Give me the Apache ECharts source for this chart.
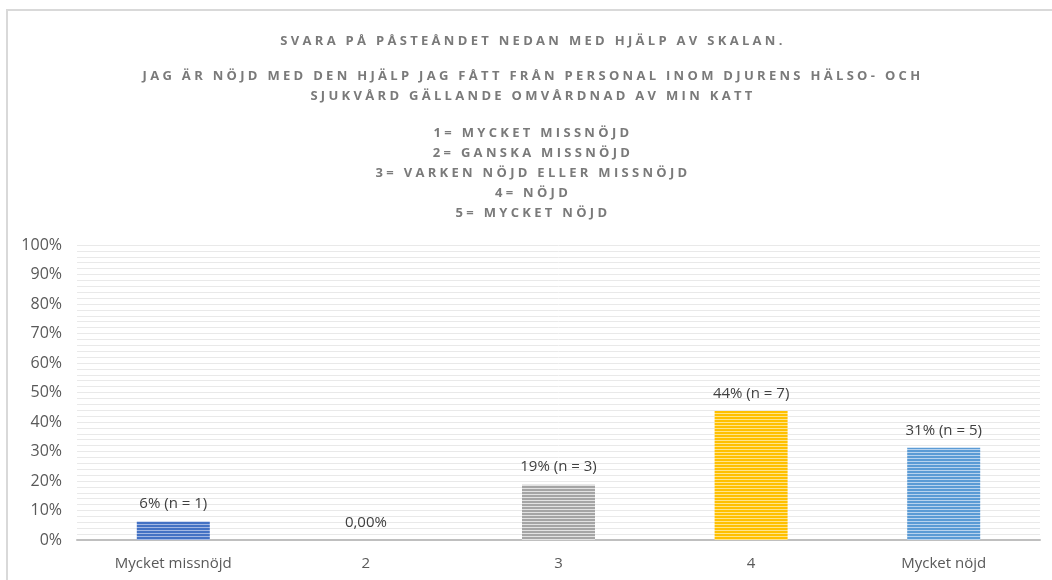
<!DOCTYPE html>
<html>
<head>
<meta charset="utf-8">
<script src="https://cdn.jsdelivr.net/npm/echarts@6/dist/echarts.min.js"></script>
<style>
    html, body { margin: 0; padding: 0; background: #fff; overflow: hidden; }
    #frame {
        position: absolute; left: 6px; top: 9px; width: 1100px; height: 620px;
        border: 2px solid #d9d9d9; box-sizing: border-box;
    }
    #titles {
        position: absolute; left: 0; top: 0; width: 1066px; text-align: center;
        font-family: "Open Sans", sans-serif; font-weight: bold; font-size: 13px;
        color: #7a7a7a; letter-spacing: 3.3px; line-height: 20px; z-index: 2;
    }
    #titles p { margin: 0; position: absolute; left: 0; width: 100%; }
    #chart { position: absolute; left: 0; top: 0; width: 1052px; height: 580px; }
</style>
</head>
<body>
    <div id="frame"></div>
    <div id="chart"></div>
    <div id="titles">
        <p style="top:30px">SVARA PÅ PÅSTEÅNDET NEDAN MED HJÄLP AV SKALAN.</p>
        <p style="top:65px">JAG ÄR NÖJD MED DEN HJÄLP JAG FÅTT FRÅN PERSONAL INOM DJURENS HÄLSO- OCH<br>SJUKVÅRD GÄLLANDE OMVÅRDNAD AV MIN KATT</p>
        <p style="top:122px">1= MYCKET MISSNÖJD<br>2= GANSKA MISSNÖJD<br>3= VARKEN NÖJD ELLER MISSNÖJD<br>4= NÖJD<br>5= MYCKET NÖJD</p>
    </div>
    <script>
        // data
        var categories = ['Mycket missnöjd', '2', '3', '4', 'Mycket nöjd'];
        var values = [6.25, 0, 18.75, 43.75, 31.25];
        var labels = ['6% (n = 1)', '0,00%', '19% (n = 3)', '44% (n = 7)', '31% (n = 5)'];

        // striped fills, [main, light]
        var colors = [
            ['#4472c4', '#a3b8e3'],
            ['#4472c4', '#a3b8e3'],
            ['#a5a5a5', '#e2e2e2'],
            ['#ffc000', '#ffe48a'],
            ['#5b9bd5', '#b8d3ee']
        ];

        function stripes(c) {
            var cv = document.createElement('canvas');
            cv.width = 4; cv.height = 3;
            var ctx = cv.getContext('2d');
            ctx.fillStyle = c[0];
            ctx.fillRect(0, 0, 4, 2);
            ctx.fillStyle = c[1];
            ctx.fillRect(0, 2, 4, 1);
            return { image: cv, repeat: 'repeat' };
        }

        var font = '"Open Sans", sans-serif';
        var chart = echarts.init(document.getElementById('chart'));

        chart.setOption({
            animation: false,
            grid: { left: 77, right: 12, top: 245, bottom: 40 },
            xAxis: {
                type: 'category',
                data: categories,
                axisLine: { lineStyle: { color: '#bfbfbf', width: 2 } },
                axisTick: { show: false },
                axisLabel: { color: '#595959', fontSize: 15, fontFamily: font, margin: 16 }
            },
            yAxis: {
                type: 'value',
                min: 0,
                max: 100,
                interval: 10,
                axisLine: { show: false },
                axisTick: { show: false },
                axisLabel: { color: '#595959', fontSize: 16, fontFamily: font, margin: 15, formatter: '{value}%' },
                splitLine: { lineStyle: { color: '#e9e9e9', width: 1 } },
                minorTick: { show: false, splitNumber: 5 },
                minorSplitLine: { show: true, lineStyle: { color: '#e9e9e9', width: 1 } }
            },
            series: [{
                type: 'bar',
                barWidth: 73,
                data: values.map(function (v, i) {
                    return {
                        value: v,
                        itemStyle: { color: stripes(colors[i]) },
                        label: { formatter: labels[i] }
                    };
                }),
                label: {
                    show: true,
                    position: 'top',
                    distance: 10,
                    color: '#404040',
                    fontSize: 15,
                    fontFamily: font
                }
            }]
        });
    </script>
</body>
</html>
